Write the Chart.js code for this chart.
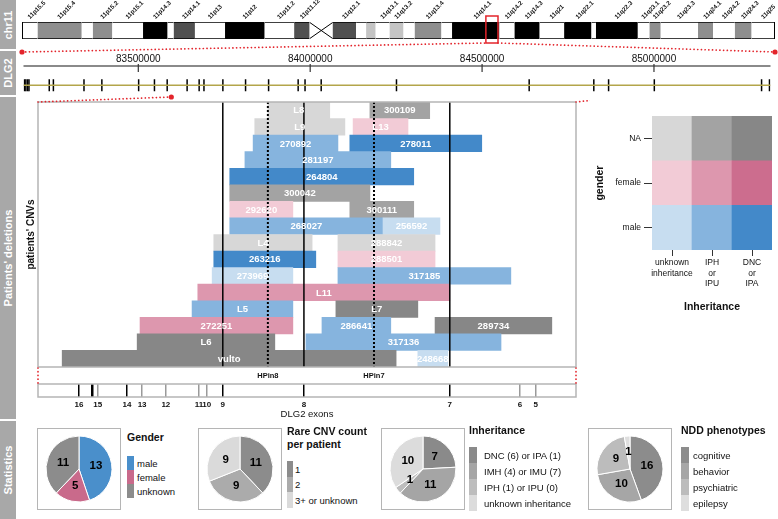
<!DOCTYPE html>
<html>
<head>
<meta charset="utf-8">
<script src="https://cdn.jsdelivr.net/npm/chart.js@4.4.1/dist/chart.umd.min.js"></script>
<style>
  body { margin: 0; background: #fff; }
  #fig { position: relative; width: 778px; height: 519px; overflow: hidden; font-family: "Liberation Sans", Arial, sans-serif; color: #111; }
  #fig canvas { position: absolute; }
  .side { position: absolute; left: 0; width: 16px; background: #a8a8a8; }
  .side span { position: absolute; left: 50%; top: 50%; transform: translate(-50%, -50%) rotate(-90deg); color: #fff; font-weight: bold; font-size: 11px; white-space: nowrap; }
  .box { position: absolute; border: 1.5px solid #b5b5b5; box-sizing: border-box; }
  .lt { position: absolute; font-size: 10.5px; font-weight: bold; white-space: nowrap; line-height: 13px; }
  .sw { position: absolute; }
  .lb { position: absolute; font-size: 9.5px; white-space: nowrap; transform: translateY(-50%); }
</style>
</head>
<body>
<div id="fig">
  <div class="side" style="top:0;height:49px"><span>chr11</span></div>
  <div class="side" style="top:51px;height:44px"><span>DLG2</span></div>
  <div class="side" style="top:97px;height:322px"><span>Patients' deletions</span></div>
  <div class="side" style="top:421px;height:98px"><span>Statistics</span></div>
</div>
<script>
// chr11 ideogram bands (Mb)
const bandNames = ['p15.5','p15.4','p15.3','p15.2','p15.1','p14.3','p14.2','p14.1','p13','p12','p11.2','p11.12','p11.11','q11','q12.1','q12.2','q12.3','q13.1','q13.2','q13.3','q13.4','q13.5','q14.1','q14.2','q14.3','q21','q22.1','q22.2','q22.3','q23.1','q23.2','q23.3','q24.1','q24.2','q24.3','q25'];
const bandStarts = [0,2.8,10.7,12.7,16.2,21.7,26.1,27.2,31.0,36.4,43.5,48.8,51.6,53.7,55.7,59.9,61.7,63.4,65.9,68.4,70.4,75.2,77.1,85.6,88.3,92.8,97.2,102.1,102.9,110.4,112.5,114.5,121.2,123.9,127.8,130.8];
const bandEnds = [2.8,10.7,12.7,16.2,21.7,26.1,27.2,31.0,36.4,43.5,48.8,51.6,53.7,55.7,59.9,61.7,63.4,65.9,68.4,70.4,75.2,77.1,85.6,88.3,92.8,97.2,102.1,102.9,110.4,112.5,114.5,121.2,123.9,127.8,130.8,135.0];
const bandStains = ['gneg','gpos50','gneg','gpos50','gneg','gpos100','gneg','gpos75','gneg','gpos100','gneg','gpos75','acen','acen','gpos75','gneg','gpos25','gneg','gpos25','gneg','gpos50','gneg','gpos100','gneg','gpos100','gneg','gpos100','gneg','gpos100','gneg','gpos50','gneg','gpos50','gneg','gpos50','gneg'];
const shownBands = ['p15.5','p15.4','p15.2','p15.1','p14.3','p14.1','p13','p12','p11.2','p11.12','q12.1','q13.1','q13.2','q13.4','q14.1','q14.2','q14.3','q21','q22.1','q22.3','q23.1','q23.2','q23.3','q24.1','q24.2','q24.3','q25'];

// DLG2 gene (kb)
const geneStart = 83166.055, geneEnd = 85338.966;
const axisTicks = [83500, 84000, 84500, 85000];
const geneExons = [83169,83173,83178,83182,83241,83253,83342,83394,83501,83547,83584,83642,83677,83691,83746,83812,83879,83965,83985,84032,84251,84637,84825,84868,85001,85313,85336];

// zoomed region with patients' CNVs (kb)
const panelMin = 83596, panelMax = 84909;
const panelExonPos = [83696,83728,83742,83813,83850,83908,83989,84008,84047,84245,84601,84772,84811];
const panelExonLabels = ['16','','15','14','13','12','11','10','9','8','7','6','5'];
const hpinPos = [84157, 84416];
const hpinLabels = ['HPin8', 'HPin7'];

const cnvIds    = ['L8','300109','L9','L13','270892','278011','281197','264804','300042','292620','300111','268027','256592','L4','288842','263216','288501','273969','317185','L11','L5','L7','272251','286641','289734','L6','317136','vulto','248668'];
const cnvRow    = [1,1,2,2,3,3,4,5,6,7,7,8,8,9,9,10,10,11,11,12,13,13,14,14,14,15,15,16,16];
const cnvStart  = [84157,84406,84125,84365,84121,84357,84101,84064,84064,84064,84357,84064,84438,84025,84328,84025,84328,84021,84328,83986,83972,84323,83845,84289,84565,83838,84250,83655,84523];
const cnvEnd    = [84308,84552,84345,84499,84328,84679,84457,84513,84406,84218,84513,84438,84577,84265,84565,84274,84565,84218,84750,84601,84218,84523,84218,84457,84850,84174,84726,84470,84596];
const cnvGender = ['NA','NA','NA','female','male','male','male','male','NA','female','NA','male','male','NA','NA','male','female','male','male','female','male','NA','female','male','NA','NA','male','NA','male'];
const cnvInherit = ['unk','inh','unk','unk','inh','dnc','inh','dnc','inh','unk','inh','inh','unk','unk','unk','dnc','unk','unk','inh','inh','inh','dnc','inh','inh','dnc','dnc','inh','dnc','unk'];

// colour key
const inhCats = [['unknown','inheritance'], ['IPH','or','IPU'], ['DNC','or','IPA']];
const inhCodes = ['unk', 'inh', 'dnc'];
const genderCats = ['male', 'female', 'NA'];
const legendCells = [1, 1, 1];

// statistics
const genderLabels = ['male', 'female', 'unknown'];
const genderCounts = [13, 5, 11];
const cnvCountLabels = ['1', '2', '3+ or unknown'];
const cnvCountVals = [11, 9, 9];
const inheritLabels = ['DNC (6) or IPA (1)', 'IMH (4) or IMU (7)', 'IPH (1) or IPU (0)', 'unknown inheritance'];
const inheritVals = [7, 11, 1, 10];
const nddLabels = ['cognitive', 'behavior', 'psychiatric', 'epilepsy'];
const nddVals = [16, 10, 9, 1];

const FONT = '"Liberation Sans", Arial, sans-serif';
const RED = '#e3242b';
const stainColor = { gneg: '#ffffff', gpos25: '#c4c4c4', gpos50: '#8e8e8e', gpos75: '#505050', gpos100: '#000000', acen: '#ffffff' };
const palette = {
  male:   ['#c7ddf0', '#86b4de', '#4389c9'],
  female: ['#f2cbd6', '#dd97ae', '#cc6d8e'],
  NA:     ['#d7d7d7', '#a3a3a3', '#878787']
};

Chart.defaults.font.family = FONT;
Chart.defaults.color = '#111';
Chart.defaults.animation = false;
Chart.defaults.responsive = false;
Chart.defaults.plugins.legend.display = false;
Chart.defaults.plugins.tooltip.enabled = false;

const fig = document.getElementById('fig');
function addCanvas(left, top, w, h) {
  const c = document.createElement('canvas');
  c.width = w; c.height = h;
  c.style.left = left + 'px'; c.style.top = top + 'px';
  fig.appendChild(c);
  return c;
}
function redLine(ctx, x0, y0, x1, y1) {
  ctx.save();
  ctx.strokeStyle = RED; ctx.lineWidth = 1.7; ctx.lineCap = 'round';
  ctx.setLineDash([0.1, 3.6]);
  ctx.beginPath(); ctx.moveTo(x0, y0); ctx.lineTo(x1, y1); ctx.stroke();
  ctx.restore();
}
function redDot(ctx, x, y) {
  ctx.fillStyle = RED;
  ctx.beginPath(); ctx.arc(x, y, 2.6, 0, Math.PI * 2); ctx.fill();
}

// ---------- ideogram ----------
const ideoDecor = {
  id: 'ideoDecor',
  afterDatasetsDraw(chart) {
    const { ctx, chartArea: a, scales: { x } } = chart;
    ctx.save();
    ctx.strokeStyle = '#000'; ctx.lineWidth = 1;
    ctx.beginPath();
    ctx.moveTo(a.left + 0.5, a.top); ctx.lineTo(a.left + 0.5, a.bottom);
    ctx.moveTo(a.right - 0.5, a.top); ctx.lineTo(a.right - 0.5, a.bottom);
    const ac = bandStains.map((s, i) => s === 'acen' ? i : -1).filter(i => i >= 0);
    const c0 = x.getPixelForValue(bandStarts[ac[0]]);
    const c1 = x.getPixelForValue(bandEnds[ac[ac.length - 1]]);
    ctx.moveTo(c0, a.top + 0.5); ctx.lineTo(c1, a.bottom - 0.5);
    ctx.moveTo(c0, a.bottom - 0.5); ctx.lineTo(c1, a.top + 0.5);
    ctx.stroke();

    ctx.fillStyle = '#111';
    ctx.font = 'bold 6.2px ' + FONT;
    ctx.textAlign = 'left'; ctx.textBaseline = 'middle';
    bandNames.forEach((n, i) => {
      if (!shownBands.includes(n)) return;
      const cx = x.getPixelForValue((bandStarts[i] + bandEnds[i]) / 2);
      ctx.save();
      ctx.translate(cx - 1, a.top - 4);
      ctx.rotate(-Math.PI / 4);
      ctx.fillText('11' + n, 0, 0);
      ctx.restore();
    });

    const g0 = x.getPixelForValue(geneStart / 1000), g1 = x.getPixelForValue(geneEnd / 1000);
    ctx.strokeStyle = RED; ctx.lineWidth = 1.5;
    ctx.strokeRect(g0, a.top - 6, g1 - g0, a.bottom - a.top + 10);
    redLine(ctx, a.left, 52, g0, a.bottom + 4);
    redLine(ctx, g1, a.bottom + 4, a.right, 52);
    redDot(ctx, a.left, 52);
    redDot(ctx, a.right, 52);
    ctx.restore();
  }
};

new Chart(addCanvas(16, 0, 762, 56), {
  type: 'bar',
  data: {
    labels: ['chr11'],
    datasets: [{
      data: bandNames.map((n, i) => ({ x: [bandStarts[i], bandEnds[i]], y: 'chr11' })),
      backgroundColor: bandStains.map(s => stainColor[s]),
      borderColor: '#000',
      borderWidth: ctx => bandStains[ctx.dataIndex] === 'acen' ? 0 : { top: 1, bottom: 1, left: 0, right: 0 },
      borderSkipped: false,
      barPercentage: 1,
      categoryPercentage: 1
    }]
  },
  options: {
    indexAxis: 'y',
    layout: { padding: { left: 6, right: 3, top: 22, bottom: 17 } },
    scales: {
      x: { type: 'linear', display: false, min: 0, max: bandEnds[bandEnds.length - 1] },
      y: { display: false }
    }
  },
  plugins: [ideoDecor]
});

// ---------- DLG2 gene track ----------
const geneAxis = {
  id: 'geneAxis',
  beforeDatasetsDraw(chart) {
    const { ctx, chartArea: a, scales: { x } } = chart;
    ctx.save();
    ctx.strokeStyle = '#8a8a8a'; ctx.lineWidth = 2;
    ctx.beginPath(); ctx.moveTo(a.left, a.top); ctx.lineTo(a.right, a.top); ctx.stroke();
    ctx.strokeStyle = '#333'; ctx.lineWidth = 1.2;
    x.ticks.forEach(t => {
      const px = x.getPixelForValue(t.value);
      ctx.beginPath(); ctx.moveTo(px, a.top - 2); ctx.lineTo(px, a.top + 6); ctx.stroke();
    });
    ctx.restore();
  }
};

const geneChart = new Chart(addCanvas(16, 52, 762, 60), {
  type: 'scatter',
  data: {
    datasets: [
      { data: [{ x: geneStart, y: 0 }, { x: geneEnd, y: 0 }], showLine: true, borderColor: '#b3a54a', borderWidth: 1.5, pointRadius: 0 },
      { data: geneExons.map(v => ({ x: v, y: 0 })), pointStyle: 'line', pointRotation: 90, pointRadius: 6, pointBorderColor: '#000', pointBorderWidth: 1.5 }
    ]
  },
  options: {
    layout: { padding: { left: 6, right: 3, top: 0, bottom: 2 } },
    scales: {
      x: {
        type: 'linear', position: 'top', min: geneStart, max: geneEnd,
        afterFit: s => { s.height = 14; },
        afterBuildTicks: s => { s.ticks = axisTicks.map(v => ({ value: v })); },
        ticks: { callback: v => String(v * 1000), font: { size: 10 }, padding: 1, maxRotation: 0, autoSkip: false },
        grid: { display: false, drawTicks: false },
        border: { display: false }
      },
      y: { display: false, min: -1, max: 1 }
    }
  },
  plugins: [geneAxis]
});

// ---------- patients' deletions ----------
const rowLabels = [...new Set(cnvRow)].map(r => 'r' + r);

const panelDecor = {
  id: 'panelDecor',
  afterDatasetsDraw(chart) {
    const { ctx, chartArea: a, scales: { x } } = chart;
    ctx.save();
    // exon lines
    ctx.strokeStyle = '#000'; ctx.lineWidth = 1.5;
    panelExonPos.forEach((v, i) => {
      if (!['9', '8', '7'].includes(panelExonLabels[i])) return;
      const px = x.getPixelForValue(v);
      ctx.beginPath(); ctx.moveTo(px, a.top); ctx.lineTo(px, a.bottom); ctx.stroke();
    });
    ctx.lineWidth = 2; ctx.setLineDash([2, 2]);
    hpinPos.forEach(v => {
      const px = x.getPixelForValue(v);
      ctx.beginPath(); ctx.moveTo(px, a.top); ctx.lineTo(px, a.bottom); ctx.stroke();
    });
    ctx.setLineDash([]);
    // labels
    ctx.fillStyle = '#fff'; ctx.font = 'bold 9.5px ' + FONT;
    ctx.textAlign = 'center'; ctx.textBaseline = 'middle';
    chart.getDatasetMeta(0).data.forEach((el, i) => {
      ctx.fillText(cnvIds[i], (el.x + el.base) / 2, el.y + 0.5);
    });
    // frame
    ctx.strokeStyle = '#b5b5b5'; ctx.lineWidth = 1.5;
    ctx.strokeRect(a.left, a.top, a.right - a.left, a.bottom - a.top);
    // zoom connectors to the gene track
    const gx = geneChart.scales.x;
    const dx = geneChart.canvas.offsetLeft - chart.canvas.offsetLeft;
    const dy = 97 - chart.canvas.offsetTop;
    const d0 = gx.getPixelForValue(panelMin) + dx, d1 = gx.getPixelForValue(panelMax) + dx;
    redLine(ctx, a.left, a.top, d0, dy);
    redLine(ctx, a.right, a.top, d1, dy);
    redDot(ctx, d0, dy);
    redDot(ctx, d1, dy);
    ctx.restore();
  }
};

new Chart(addCanvas(20, 90, 570, 280), {
  type: 'bar',
  data: {
    labels: rowLabels,
    datasets: [{
      data: cnvIds.map((id, i) => ({ x: [cnvStart[i], cnvEnd[i]], y: 'r' + cnvRow[i] })),
      backgroundColor: cnvIds.map((id, i) => palette[cnvGender[i]][inhCodes.indexOf(cnvInherit[i])]),
      borderWidth: 0,
      barPercentage: 1,
      categoryPercentage: 1
    }]
  },
  options: {
    indexAxis: 'y',
    layout: { padding: { left: 0, right: 14, top: 12, bottom: 3 } },
    scales: {
      x: { type: 'linear', display: false, min: panelMin, max: panelMax },
      y: {
        afterFit: s => { s.width = 18; },
        ticks: { display: false },
        grid: { display: false },
        border: { display: false },
        title: { display: true, text: "patients' CNVs", font: { size: 10, weight: 'bold' }, padding: { top: 5, bottom: 0 } }
      }
    }
  },
  plugins: [panelDecor]
});

// exon axis under the panel
const exonDark = ['16', '', '14', '9', '8', '7'];
const exonDecor = {
  id: 'exonDecor',
  afterDraw(chart) {
    const { ctx, chartArea: a, scales: { x } } = chart;
    ctx.save();
    ctx.strokeStyle = '#b5b5b5'; ctx.lineWidth = 1.5;
    ctx.strokeRect(a.left, a.top, a.right - a.left, a.bottom - a.top);
    ctx.fillStyle = '#111'; ctx.font = 'bold 7.5px ' + FONT;
    ctx.textAlign = 'center'; ctx.textBaseline = 'middle';
    hpinPos.forEach((v, i) => ctx.fillText(hpinLabels[i], x.getPixelForValue(v), 8.5));
    redLine(ctx, a.left, 1, a.left, a.top - 1);
    redLine(ctx, a.right, 1, a.right, a.top - 1);
    ctx.restore();
  }
};

new Chart(addCanvas(20, 367, 570, 53), {
  type: 'scatter',
  data: { datasets: [] },
  options: {
    layout: { padding: { left: 18, right: 14, top: 17, bottom: 0 } },
    scales: {
      x: {
        type: 'linear', min: panelMin, max: panelMax,
        afterFit: s => { s.height = 23; },
        afterBuildTicks: s => { s.ticks = panelExonPos.map(v => ({ value: v })); },
        ticks: { callback: (v, i) => panelExonLabels[i], autoSkip: false, maxRotation: 0, font: { size: 8, weight: 'bold' }, padding: 3 },
        grid: {
          drawTicks: false, offset: false,
          color: c => exonDark.includes(panelExonLabels[c.index]) ? '#000' : '#9a9a9a',
          lineWidth: c => panelExonLabels[c.index] === '' ? 2.5 : 1.5
        },
        border: { display: false },
        title: { display: true, text: 'DLG2 exons', font: { size: 9.5 }, padding: { top: 1, bottom: 0 } }
      },
      y: { display: false, min: 0, max: 1 }
    }
  },
  plugins: [exonDecor]
});

// ---------- gender x inheritance key ----------
new Chart(addCanvas(590, 108, 188, 205), {
  type: 'bar',
  data: {
    labels: inhCats,
    datasets: genderCats.map(g => ({ label: g, data: legendCells, backgroundColor: palette[g], borderWidth: 0, barPercentage: 1, categoryPercentage: 1 }))
  },
  options: {
    layout: { padding: { left: 0, right: 6, top: 7, bottom: 0 } },
    scales: {
      x: {
        stacked: true,
        afterFit: s => { s.height = 63; },
        grid: { drawOnChartArea: false, offset: false, tickLength: 6, color: '#333' },
        border: { display: false },
        ticks: { font: { size: 8.5 }, padding: 2, maxRotation: 0, autoSkip: false },
        title: { display: true, text: 'Inheritance', font: { size: 10.5, weight: 'bold' }, padding: { top: 5, bottom: 0 } }
      },
      y: {
        stacked: true, min: 0, max: genderCats.length,
        afterFit: s => { s.width = 62; },
        afterBuildTicks: s => { s.ticks = genderCats.map((g, i) => ({ value: i + 0.5 })); },
        ticks: { callback: v => genderCats[Math.floor(v)], font: { size: 8.5 }, padding: 3 },
        grid: { drawOnChartArea: false, tickLength: 8, color: '#333' },
        border: { display: false },
        title: { display: true, text: 'gender', font: { size: 10.5, weight: 'bold' }, padding: { top: 4, bottom: 0 } }
      }
    }
  }
});

// ---------- statistics pies ----------
const pieNumbers = {
  id: 'pieNumbers',
  afterDatasetsDraw(chart) {
    const ctx = chart.ctx, vals = chart.data.datasets[0].data;
    ctx.save();
    ctx.font = 'bold 11.5px ' + FONT; ctx.fillStyle = '#000';
    ctx.textAlign = 'center'; ctx.textBaseline = 'middle';
    chart.getDatasetMeta(0).data.forEach((arc, i) => {
      const ang = (arc.startAngle + arc.endAngle) / 2, r = arc.outerRadius * 0.52;
      ctx.fillText(vals[i], arc.x + Math.cos(ang) * r, arc.y + Math.sin(ang) * r);
    });
    ctx.restore();
  }
};

function pie(left, values, colors) {
  const w = 84, h = 82, top = 428, d = 67;
  const box = document.createElement('div');
  box.className = 'box';
  Object.assign(box.style, { left: left + 'px', top: top + 'px', width: w + 'px', height: h + 'px' });
  fig.appendChild(box);
  new Chart(addCanvas(left, top, w, h), {
    type: 'pie',
    data: { datasets: [{ data: values, backgroundColor: colors, borderColor: '#fff', borderWidth: 1 }] },
    options: { layout: { padding: { left: (w - d) / 2, right: (w - d) / 2, top: (h - d) / 2, bottom: (h - d) / 2 } } },
    plugins: [pieNumbers]
  });
}

function legend(left, titleTop, titleLines, labels, colors, rowTop, rowH, swW, textLeft) {
  titleLines.forEach((t, i) => {
    const el = document.createElement('div');
    el.className = 'lt'; el.textContent = t;
    Object.assign(el.style, { left: left + 'px', top: (titleTop + i * 13) + 'px' });
    fig.appendChild(el);
  });
  labels.forEach((t, i) => {
    const sw = document.createElement('div');
    sw.className = 'sw';
    Object.assign(sw.style, { left: left + 'px', top: (rowTop + i * rowH) + 'px', width: swW + 'px', height: rowH + 'px', background: colors[i] });
    fig.appendChild(sw);
    const lb = document.createElement('div');
    lb.className = 'lb'; lb.textContent = t;
    Object.assign(lb.style, { left: textLeft + 'px', top: (rowTop + (i + 0.5) * rowH) + 'px' });
    fig.appendChild(lb);
  });
}

const genderCols = ['#4a8fcb', '#c96a8b', '#8c8c8c'];
const countCols = ['#8c8c8c', '#ababab', '#dadada'];
const inheritCols = ['#8a8a8a', '#a5a5a5', '#bdbdbd', '#dcdcdc'];
const nddCols = ['#8c8c8c', '#a6a6a6', '#bcbcbc', '#dedede'];

pie(37, genderCounts, genderCols);
legend(127, 431, ['Gender'], genderLabels, genderCols, 456, 14, 7, 137);
pie(198, cnvCountVals, countCols);
legend(287, 425, ['Rare CNV count', 'per patient'], cnvCountLabels, countCols, 461, 15.5, 6, 295);
pie(381, inheritVals, inheritCols);
legend(469, 424, ['Inheritance'], inheritLabels, inheritCols, 447, 16, 8, 484);
pie(588, nddVals, nddCols);
legend(681, 424, ['NDD phenotypes'], nddLabels, nddCols, 447, 16, 8, 693);
</script>
</body>
</html>
